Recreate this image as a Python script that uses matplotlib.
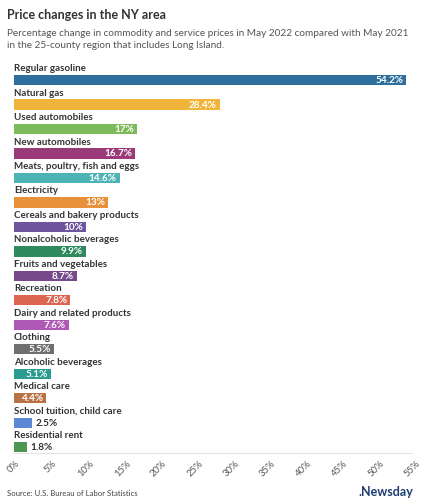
import matplotlib
matplotlib.use("Agg")
import matplotlib.pyplot as plt
import numpy as np

categories = ["Regular gasoline", "Natural gas", "Used automobiles", "New automobiles",
              "Meats, poultry, fish and eggs", "Electricity", "Cereals and bakery products",
              "Nonalcoholic beverages", "Fruits and vegetables", "Recreation",
              "Dairy and related products", "Clothing", "Alcoholic beverages",
              "Medical care", "School tuition, child care", "Residential rent"]
values = [54.2, 28.4, 17, 16.7, 14.6, 13, 10, 9.9, 8.7, 7.8, 7.6, 5.5, 5.1, 4.4, 2.5, 1.8]
value_labels = ["54.2%", "28.4%", "17%", "16.7%", "14.6%", "13%", "10%", "9.9%", "8.7%",
                "7.8%", "7.6%", "5.5%", "5.1%", "4.4%", "2.5%", "1.8%"]
colors = ["#2e6f9e", "#f0b43a", "#7cba5a", "#9b3a78", "#4eb3b4", "#e8913a", "#6e559e",
          "#2f8a5e", "#76498a", "#db6651", "#ad59b5", "#6f6f6f", "#2b9c90", "#b87246",
          "#5b89d6", "#4b9650"]
ticks = list(range(0, 60, 5))
tick_labels = [f"{t}%" for t in ticks]

plt.rcParams['font.family'] = ['Lato', 'DejaVu Sans']

W, H = 427, 500
fig = plt.figure(figsize=(W / 100, H / 100), dpi=100)
fig.patch.set_facecolor("white")

ax_l, ax_r = 14 / W, 412 / W
ax_b, ax_t = 1 - 453 / H, 1 - 62 / H
ax = fig.add_axes([ax_l, ax_b, ax_r - ax_l, ax_t - ax_b])

y = np.arange(len(categories))
ax.barh(y, values, height=0.42, color=colors)
ax.set_xlim(0, 55)
ax.set_ylim(15.24, -0.74)

for i, (cat, v, lab) in enumerate(zip(categories, values, value_labels)):
    ax.text(0, i - 0.47, cat, ha="left", va="center", fontsize=7.0,
            fontweight="bold", color="#333333")
    if v >= 4:
        ax.text(v - 0.4, i + 0.02, lab, ha="right", va="center", fontsize=7.2,
                fontweight="bold", color="white")
    else:
        ax.text(v + 0.5, i + 0.02, lab, ha="left", va="center", fontsize=7.2,
                fontweight="bold", color="#333333")

for s in ["top", "right", "left"]:
    ax.spines[s].set_visible(False)
ax.spines["bottom"].set_color("#e3e3e3")
ax.spines["bottom"].set_linewidth(0.8)
ax.set_yticks([])
ax.set_xticks(ticks)
ax.set_xticklabels(tick_labels, rotation=45, ha="center", va="top",
                   fontsize=6.8, color="#555555")
ax.tick_params(axis="x", length=0, pad=4)

fig.text(7 / W, 1 - 15 / H, "Price changes in the NY area", fontsize=9,
         fontweight="bold", color="#333333", ha="left", va="center")
fig.text(7 / W, 1 - 33 / H, "Percentage change in commodity and service prices in May 2022 compared with May 2021",
         fontsize=7.2, color="#555555", ha="left", va="center")
fig.text(7 / W, 1 - 46 / H, "in the 25-county region that includes Long Island.",
         fontsize=7.2, color="#555555", ha="left", va="center")
fig.text(7 / W, 1 - 493 / H, "Source: U.S. Bureau of Labor Statistics", fontsize=5.6,
         color="#444444", ha="left", va="center")
fig.text(413 / W, 1 - 492 / H, ".Newsday", fontsize=9, fontweight="bold",
         color="#1d3d73", ha="right", va="center")

fig.savefig("out.png", dpi=100, facecolor="white")
